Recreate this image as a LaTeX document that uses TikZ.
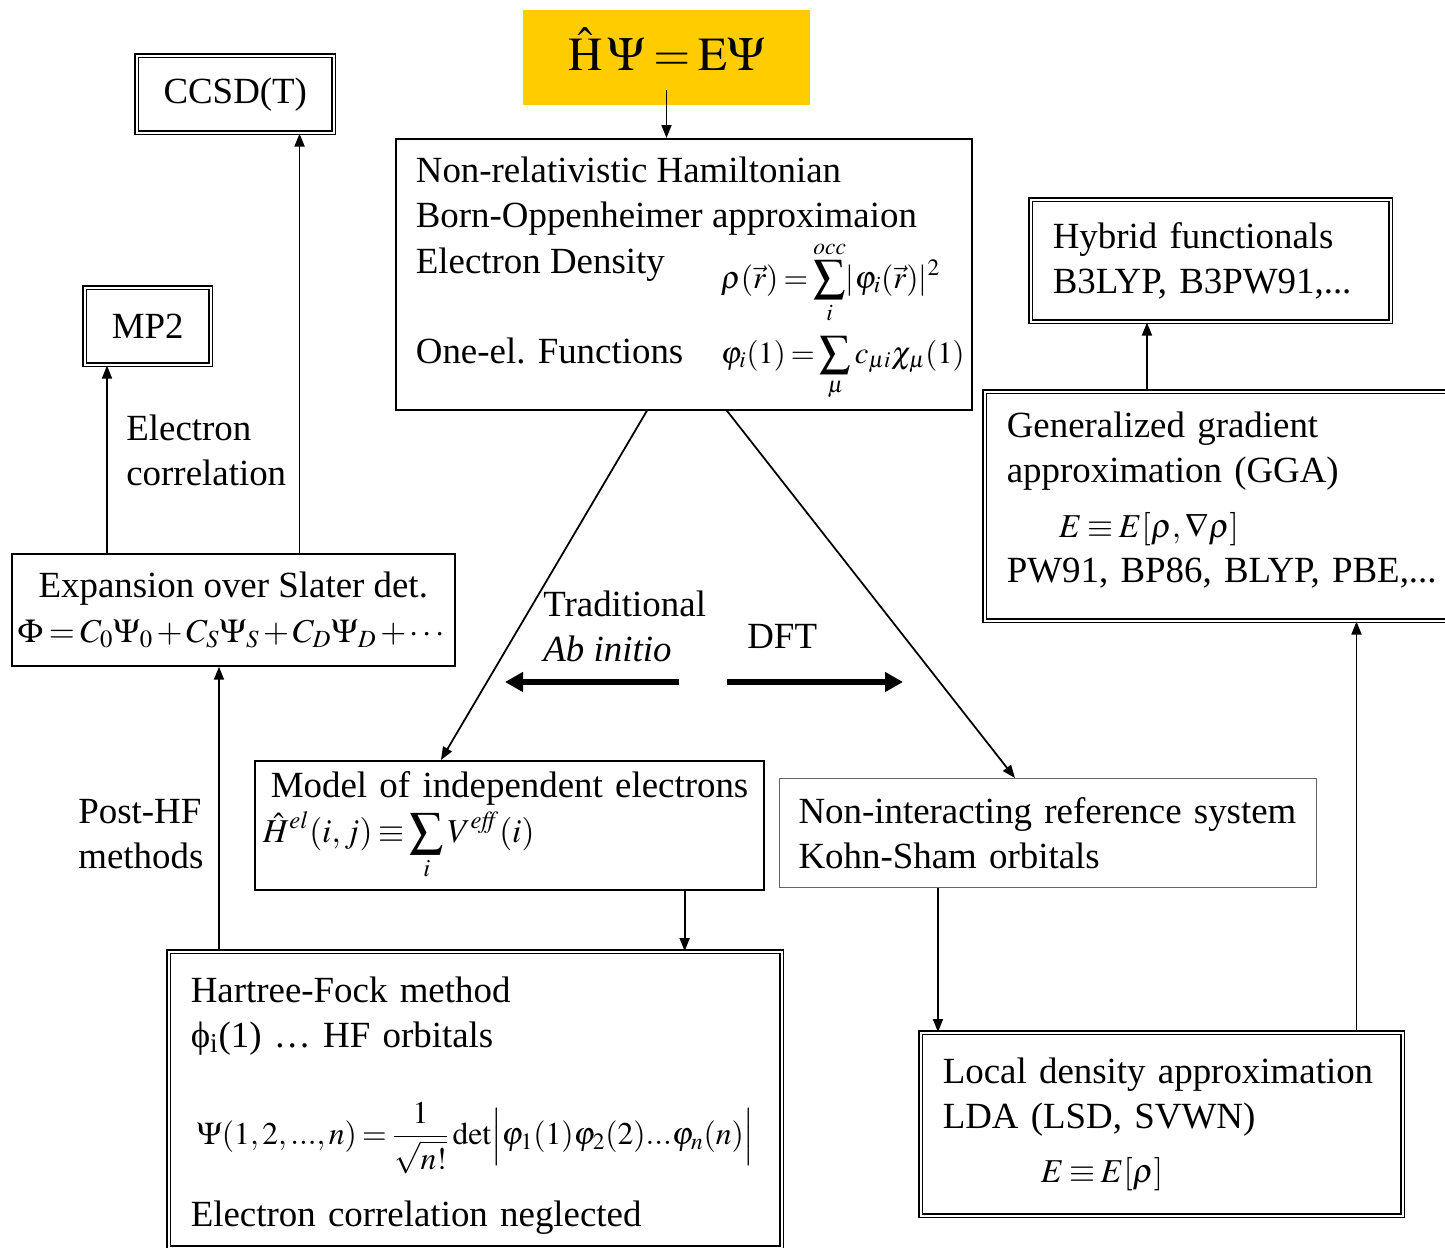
\documentclass[tikz,border=0pt]{standalone}
\usepackage{amsmath}
\usepackage{mathptmx}
\usepackage[no-math]{fontspec}
\setmainfont{Liberation Serif}
\usepackage{tikz}
\usetikzlibrary{positioning,calc,arrows.meta}
\definecolor{hamyellow}{HTML}{FFCC00}
\medmuskip=2mu plus 1mu minus 2mu
\thickmuskip=3mu plus 2mu
\newcommand{\fml}[2][19]{\mbox{\fontsize{#1}{23}\selectfont$\displaystyle #2$}}
\tikzset{
  box/.style={draw, line width=1pt, anchor=north west},
  thinbox/.style={draw=black!60, line width=0.6pt, anchor=north west},
  dbox/.style={draw, double, double distance=1.2pt, line width=0.9pt, anchor=north west},
  lbl/.style={inner sep=0pt, anchor=west, align=left},
  arr/.style={-{Triangle[length=2.6mm,width=2mm]}, line width=1pt},
  bigarr/.style={-{Triangle[length=3.6mm,width=3.8mm]}, line width=3.2pt},
}
\begin{document}
\begin{tikzpicture}[x=0.02cm, y=-0.02cm, font=\fontsize{21}{25.6}\selectfont]
    \useasboundingbox (0,0) rectangle (1445,1248);
    % Schroedinger equation
    \node[fill=hamyellow, minimum width=5.74cm, minimum height=1.9cm, font=\fontsize{27}{30}\selectfont] (ham) at (666.5,57.5) {\raisebox{9.5pt}{$\hat{\mathrm{H}}\,\Psi = \mathrm{E}\Psi$}};
    \node[box, minimum width=11.52cm, minimum height=5.42cm, inner xsep=0.4cm] (main) at (395,138) {%
      \begin{tabular}{@{}p{6.1cm}@{}p{4.62cm}@{}}
        \multicolumn{2}{@{}l@{}}{\rule{0pt}{19.9pt}Non-relativistic Hamiltonian}\\
        \multicolumn{2}{@{}l@{}}{Born-Oppenheimer approximaion}\\
        Electron Density & \raisebox{-0.3cm}{\fml[18]{\rho(\vec{r}) = \sum_i^{occ}\lvert\varphi_i(\vec{r})\rvert^2}}\\
        \rule{0pt}{22.4pt}One-el. Functions & \fml[17.5]{\varphi_i(1) = \sum_{\mu} c_{\mu i}\chi_{\mu}(1)}
      \end{tabular}};
    % post-HF side
    \node[dbox, minimum width=3.94cm, minimum height=1.54cm] (ccsd) at (136,55) {CCSD(T)};
    \node[dbox, minimum width=2.52cm, minimum height=1.54cm] (mp2) at (84,287) {MP2};
    \node[box, minimum width=8.64cm, minimum height=2.24cm, align=center] (exp) at (11,553) {Expansion over Slater det.\\ \fml{\Phi = C_0\Psi_0 + C_S\Psi_S + C_D\Psi_D + \cdots}};
    \node[box, minimum width=10.18cm, minimum height=2.58cm, text width=9.86cm, inner xsep=0.16cm, align=left] (model) at (254,760) {\hspace*{0.16cm}Model of independent electrons\\ \fml{\hat{H}^{el}(i,j) \equiv \sum_i V^{\mathit{eff}}(i)}};
    \node[dbox, minimum width=12.26cm, minimum height=5.92cm, text width=11.38cm, inner xsep=0.44cm, align=left] (hf) at (168,951) {\rule{0pt}{21pt}Hartree-Fock method\\ ϕ\textsubscript{i}(1) … HF orbitals\\[0.9cm]
      \hspace*{0.12cm}\fml[18]{\Psi(1,2,...,n) = \frac{1}{\sqrt{n!}}\det\Bigl|\varphi_1(1)\varphi_2(2)...\varphi_n(n)\Bigr|}\\[0.5cm]
      Electron correlation neglected};
    % DFT side
    \node[thinbox, minimum width=10.74cm, minimum height=2.18cm, text width=9.98cm, inner xsep=0.38cm, align=left] (nonint) at (779,778) {Non-interacting reference system\\ Kohn-Sham orbitals};
    \node[dbox, minimum width=9.64cm, minimum height=3.66cm, text width=8.76cm, inner xsep=0.44cm, align=left] (lda) at (920,1032) {Local density approximation\\ LDA (LSD, SVWN)\\[0.18cm] \hspace*{1.96cm}\fml{E \equiv E[\rho]}};
    \node[dbox, minimum width=9.6cm, minimum height=4.58cm, text width=8.72cm, inner xsep=0.44cm, align=left] (gga) at (984,391) {Generalized gradient\\ approximation (GGA)\\[0.2cm] \hspace*{1.04cm}\fml{E \equiv E[\rho,\nabla\rho]}\\ PW91, BP86, BLYP, PBE,...\rule[-0.35cm]{0pt}{0.35cm}};
    \node[dbox, minimum width=7.2cm, minimum height=2.44cm, text width=6.32cm, inner xsep=0.44cm, align=left] (hyb) at (1030,199) {Hybrid functionals\\ B3LYP, B3PW91,...};
    % labels
    \node[lbl] (corr) at (126,450) {Electron\\ correlation};
    \node[lbl] (posthf) at (78,834) {Post-HF\\ methods};
    \node[lbl] (trad) at (543,626) {Traditional\\ \textit{Ab initio}};
    \node[lbl] (dft) at (747,636) {DFT};
    % connector ends
    \coordinate (mp2foot) at ($(mp2.south west)+(0.46cm,0)$);
    \coordinate (ccsdfoot) at ($(ccsd.south east)+(-0.7cm,0)$);
    \coordinate (hftop) at ($(hf.north west)+(1.02cm,0)$);
    \coordinate (modelfoot) at ($(model.south east)+(-1.6cm,0)$);
    \coordinate (nonfoot) at ($(nonint.south west)+(3.18cm,0)$);
    \coordinate (ldatop) at ($(lda.north east)+(-0.94cm,0)$);
    \coordinate (hybfoot) at ($(hyb.south west)+(2.34cm,0)$);
    \coordinate (mainL) at ($(main.south west)+(5.04cm,0)$);
    \coordinate (mainR) at ($(main.south west)+(6.64cm,0)$);
    \coordinate (modeltop) at ($(model.north west)+(3.74cm,0)$);
    \coordinate (nontop) at ($(nonint.north west)+(4.72cm,0)$);
    \coordinate (abR) at (679,682);
    \coordinate (abL) at (505,682);
    \coordinate (dftL) at (727,682);
    \coordinate (dftR) at (903,682);
    % connectors
    \draw[arr] ([yshift=0.3cm]ham.south) -- (ham.south |- main.north);
    \draw[arr] (exp.north -| mp2foot) -- (mp2foot);
    \draw[arr] (exp.north -| ccsdfoot) -- (ccsdfoot);
    \draw[arr] (hftop) -- (exp.south -| hftop);
    \draw[arr] (modelfoot) -- (hf.north -| modelfoot);
    \draw[arr] (nonfoot) -- (lda.north -| nonfoot);
    \draw[arr] (ldatop) -- (gga.south -| ldatop);
    \draw[arr] (gga.north -| hybfoot) -- (hybfoot);
    \draw[arr] (mainL) -- (modeltop);
    \draw[arr] (mainR) -- (nontop);
    \draw[bigarr] (abR) -- (abL);
    \draw[bigarr] (dftL) -- (dftR);
\end{tikzpicture}
\end{document}
